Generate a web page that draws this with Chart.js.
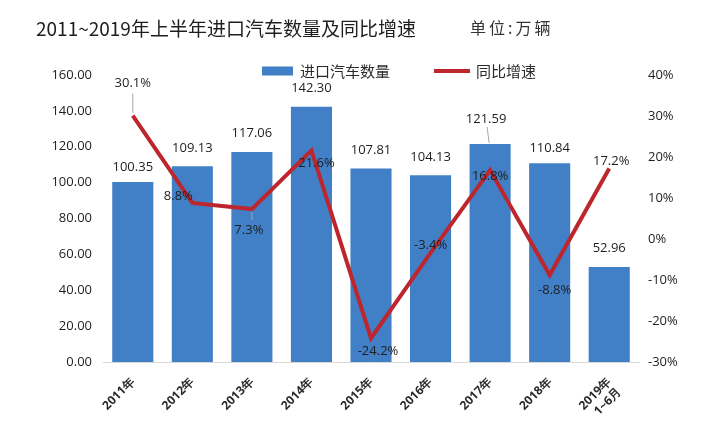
<!DOCTYPE html>
<html>
<head>
<meta charset="utf-8">
<script src="https://cdn.jsdelivr.net/npm/chart.js@4/dist/chart.umd.min.js"></script>
<style>
    html, body { margin: 0; padding: 0; background: #fff; }
    #wrap { position: relative; width: 702px; height: 434px; }
    #wrap canvas { position: absolute; left: 0; top: 0; }
    #title { position: absolute; left: 36px; top: 14px; font: 19px "Noto Sans CJK SC"; color: #1e1e1e; white-space: nowrap; }
    #unit { position: absolute; left: 470px; top: 15px; font: 16px "Noto Sans CJK SC"; letter-spacing: 3px; color: #333; white-space: nowrap; }
</style>
</head>
<body>
<div id="wrap">
    <canvas id="chart" width="702" height="434"></canvas>
    <div id="title">2011~2019年上半年进口汽车数量及同比增速</div>
    <div id="unit">单位:万辆</div>
</div>
<script>
// Chart Data
const years = ['2011年', '2012年', '2013年', '2014年', '2015年', '2016年', '2017年', '2018年', ['2019年', '1~6月']];
const importVolume = [100.35, 109.13, 117.06, 142.30, 107.81, 104.13, 121.59, 110.84, 52.96];
const yoyGrowth = [30.1, 8.8, 7.3, 21.6, -24.2, -3.4, 16.8, -8.8, 17.2];
const volumeTicks = [0, 20, 40, 60, 80, 100, 120, 140, 160];
const growthTicks = [-30, -20, -10, 0, 10, 20, 30, 40];

const barColor = '#4180c6';
const lineColor = '#bd262d';
const labelFont = '13px "Open Sans"';

// label offsets from the mark (dx, dy), leader = draw a thin line back to the mark
const barLabelPos = [[0, -15], [0, -18], [0, -19], [0, -18], [0, -18], [0, -18], [-4, -25, true], [0, -15], [0, -19]];
const lineLabelPos = [[0, -32, true], [-14, -7], [-3, 21, true], [5, 13], [7, 13], [0, -8], [0, 6], [5, 15], [2, -7]];

// data labels
const labelPlugin = {
    id: 'valueLabels',
    afterDatasetsDraw(chart) {
        const ctx = chart.ctx;
        ctx.save();
        ctx.font = labelFont;
        ctx.fillStyle = '#1e1e1e';
        ctx.textAlign = 'center';
        ctx.textBaseline = 'middle';
        ctx.strokeStyle = '#a6a6a6';
        ctx.lineWidth = 1;

        const bars = chart.getDatasetMeta(1).data;
        bars.forEach((bar, i) => {
            const [dx, dy, leader] = barLabelPos[i];
            const x = bar.x + dx, y = bar.y + dy;
            if (leader) {
                ctx.beginPath();
                ctx.moveTo(x + 1, y + 8);
                ctx.lineTo(bar.x - 1, bar.y - 1);
                ctx.stroke();
            }
            ctx.fillText(importVolume[i].toFixed(2), x, y);
        });

        const pts = chart.getDatasetMeta(0).data;
        pts.forEach((pt, i) => {
            const [dx, dy, leader] = lineLabelPos[i];
            const x = pt.x + dx, y = pt.y + dy;
            if (leader) {
                ctx.beginPath();
                const dir = dy < 0 ? 1 : -1;
                ctx.moveTo(pt.x, pt.y - dir * 3);
                ctx.lineTo(pt.x, y + dir * 10);
                ctx.stroke();
            }
            ctx.fillText(yoyGrowth[i].toFixed(1) + '%', x, y);
        });
        ctx.restore();
    }
};

// legend drawn over the top of the plot, like the original
const legendPlugin = {
    id: 'topLegend',
    afterDraw(chart) {
        const ctx = chart.ctx;
        const ds = chart.data.datasets;
        const y = 71;
        ctx.save();
        ctx.font = '15px "Noto Sans CJK SC"';
        ctx.textBaseline = 'middle';
        ctx.fillStyle = ds[1].backgroundColor;
        ctx.fillRect(262, y - 4.5, 31, 9);
        ctx.fillStyle = '#2a2a2a';
        ctx.fillText(ds[1].label, 300, y);
        ctx.strokeStyle = ds[0].borderColor;
        ctx.lineWidth = 4;
        ctx.beginPath();
        ctx.moveTo(434, y);
        ctx.lineTo(470, y);
        ctx.stroke();
        ctx.fillText(ds[0].label, 476, y);
        ctx.restore();
    }
};

const tickFont = { family: 'Open Sans', size: 13 };

// Chart Configuration
const config = {
    type: 'bar',
    data: {
        labels: years,
        datasets: [{
            type: 'line',
            label: '同比增速',
            data: yoyGrowth,
            yAxisID: 'y1',
            borderColor: lineColor,
            backgroundColor: lineColor,
            borderWidth: 4,
            pointRadius: 0,
            tension: 0,
            order: 0
        }, {
            type: 'bar',
            label: '进口汽车数量',
            data: importVolume,
            yAxisID: 'y',
            backgroundColor: barColor,
            barPercentage: 0.69,
            categoryPercentage: 1,
            order: 1
        }]
    },
    options: {
        responsive: false,
        animation: false,
        layout: { padding: { left: 38, right: 8, top: 75, bottom: 12 } },
        plugins: {
            legend: { display: false },
            tooltip: { enabled: false }
        },
        scales: {
            x: {
                grid: { display: false },
                border: { display: true, color: '#d9d9d9', width: 1 },
                ticks: {
                    font: { family: 'Open Sans', size: 12, weight: 'bold' },
                    color: '#2a2a2a',
                    minRotation: 45,
                    maxRotation: 45,
                    padding: 5
                },
                afterFit(scale) { scale.height = 60; }
            },
            y: {
                position: 'left',
                min: 0,
                max: 160,
                grid: { display: false, drawTicks: false },
                border: { display: false },
                afterBuildTicks(scale) { scale.ticks = volumeTicks.map(v => ({ value: v })); },
                ticks: {
                    font: tickFont,
                    color: '#1e1e1e',
                    padding: 11,
                    callback: v => v.toFixed(2)
                },
                afterFit(scale) { scale.width = 65; }
            },
            y1: {
                position: 'right',
                min: -30,
                max: 40,
                grid: { display: false, drawTicks: false },
                border: { display: false },
                afterBuildTicks(scale) { scale.ticks = growthTicks.map(v => ({ value: v })); },
                ticks: {
                    font: tickFont,
                    color: '#1e1e1e',
                    padding: 9,
                    callback: v => v + '%'
                },
                afterFit(scale) { scale.width = 55; }
            }
        }
    },
    plugins: [labelPlugin, legendPlugin]
};

// Create Chart
const chart = new Chart(document.getElementById('chart'), config);
</script>
</body>
</html>
